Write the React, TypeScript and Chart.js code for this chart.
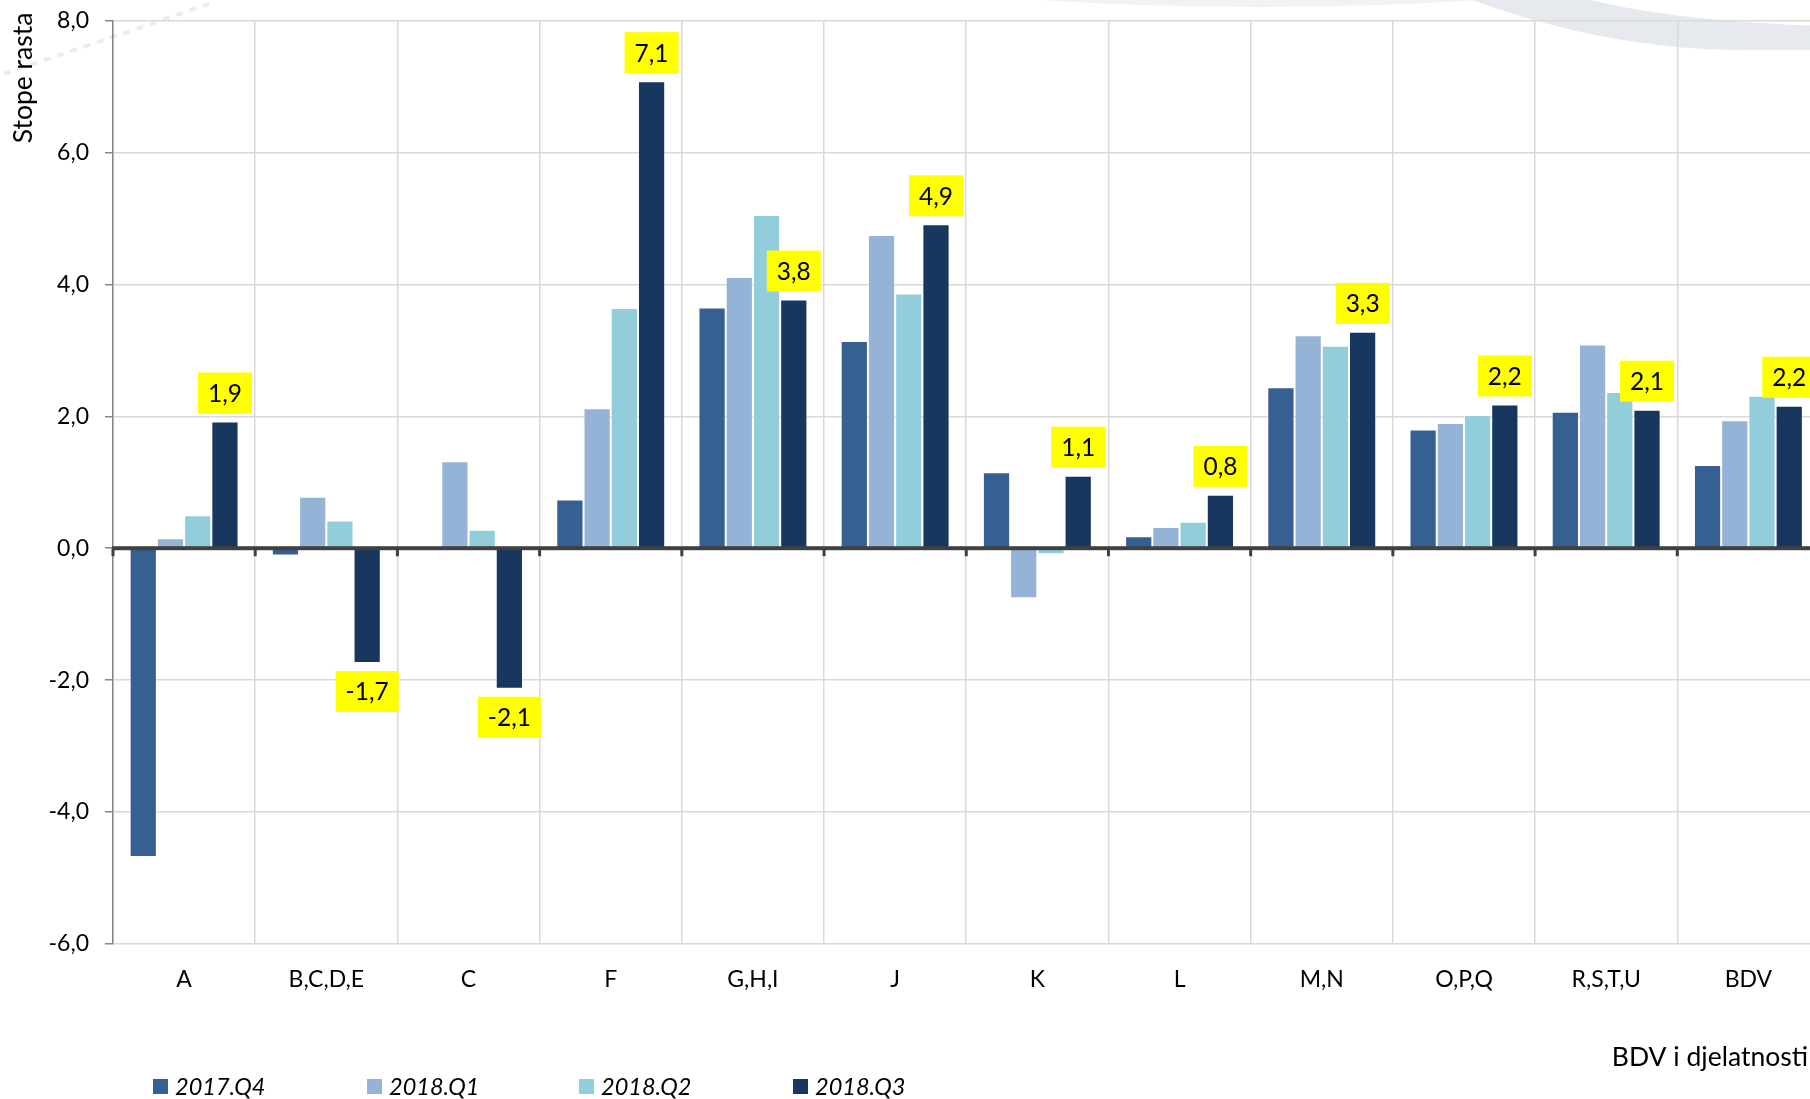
import React, { useEffect, useRef } from "react";
import { Chart, registerables } from "chart.js";

Chart.register(...registerables);

// ---------- data ----------
const categories = ["A", "B,C,D,E", "C", "F", "G,H,I", "J", "K", "L", "M,N", "O,P,Q", "R,S,T,U", "BDV"];
const seriesNames = ["2017.Q4", "2018.Q1", "2018.Q2", "2018.Q3"];
const q4_2017: (number | null)[] = [-4.68, -0.11, null, 0.74, 3.65, 3.14, 1.15, 0.18, 2.44, 1.80, 2.07, 1.26];
const q1_2018: (number | null)[] = [0.15, 0.78, 1.32, 2.12, 4.11, 4.75, -0.76, 0.32, 3.23, 1.90, 3.09, 1.94];
const q2_2018: (number | null)[] = [0.50, 0.42, 0.28, 3.64, 5.05, 3.86, -0.09, 0.40, 3.07, 2.02, 2.37, 2.31];
const q3_2018: (number | null)[] = [1.92, -1.74, -2.13, 7.08, 3.77, 4.91, 1.10, 0.81, 3.28, 2.18, 2.10, 2.16];
const yTickValues = [-6, -4, -2, 0, 2, 4, 6, 8];
const seriesColors = ["#376092", "#95b3d7", "#92cddc", "#17375e"];
const yTitle = "Stope rasta";
const xTitle = "BDV i djelatnosti";

// ---------- layout ----------
const VIEW_W = 1810;
const H = 1099;
const CANVAS_W = 1832;
const PLOT_LEFT = 113;
const PLOT_TOP = 20.5;
const PLOT_RIGHT = 1819.5;
const PLOT_BOTTOM = 944;
const FONT = "Lato, 'Open Sans', sans-serif";

const fmt = (v: number) => v.toFixed(1).replace(".", ",");

const decorPlugin = {
  id: "decor",
  beforeDraw(chart: any) {
    const ctx = chart.ctx;
    ctx.save();
    ctx.fillStyle = "#ffffff";
    ctx.fillRect(0, 0, chart.width, chart.height);
    // faint background swoosh (watermark)
    ctx.fillStyle = "rgba(236,239,242,0.8)";
    ctx.beginPath();
    ctx.moveTo(1040, 0);
    ctx.quadraticCurveTo(1260, 14, 1480, 0);
    ctx.closePath();
    ctx.fill();
    ctx.fillStyle = "rgba(226,230,235,0.85)";
    ctx.beginPath();
    ctx.moveTo(1472, 0);
    ctx.bezierCurveTo(1560, 32, 1650, 50, 1745, 50);
    ctx.lineTo(CANVAS_W, 50);
    ctx.lineTo(CANVAS_W, 26);
    ctx.bezierCurveTo(1730, 24, 1650, 14, 1590, 0);
    ctx.closePath();
    ctx.fill();
    // faint dashes top-left
    ctx.strokeStyle = "rgba(205,214,228,0.45)";
    ctx.lineWidth = 4;
    ctx.setLineDash([7, 7]);
    ctx.beginPath();
    ctx.moveTo(4, 74);
    ctx.lineTo(215, 2);
    ctx.stroke();
    ctx.restore();
  },
};

const overlayPlugin = {
  id: "overlay",
  afterDatasetsDraw(chart: any) {
    const ctx = chart.ctx;
    const area = chart.chartArea;
    const yScale = chart.scales.y;
    const y0 = yScale.getPixelForValue(0);
    const n = categories.length;
    const cw = (area.right - area.left) / n;
    ctx.save();
    // zero axis line with tick marks
    ctx.fillStyle = "#404040";
    ctx.fillRect(area.left - 1, y0 - 2, area.right - area.left + 2, 4);
    for (let i = 0; i <= n; i++) {
      const x = area.left + i * cw;
      ctx.fillRect(x - 1.5, y0, 3, 8);
    }
    // data labels for the last series
    const meta = chart.getDatasetMeta(3);
    ctx.font = `24.5px ${FONT}`;
    ctx.textAlign = "center";
    ctx.textBaseline = "middle";
    meta.data.forEach((bar: any, i: number) => {
      const v = q3_2018[i];
      if (v == null) return;
      const txt = fmt(v);
      const tw = ctx.measureText(txt).width;
      const bw = tw + 20;
      const bh = 41;
      const top = v >= 0 ? bar.y - 8 - bh : bar.y + 8;
      ctx.fillStyle = "#ffff00";
      ctx.fillRect(bar.x - bw / 2, top, bw, bh);
      ctx.fillStyle = "#000000";
      ctx.fillText(txt, bar.x, top + bh / 2 + 1);
    });
    ctx.restore();
  },
  afterDraw(chart: any) {
    const ctx = chart.ctx;
    ctx.save();
    // y axis title
    ctx.fillStyle = "#000";
    ctx.font = `26.5px ${FONT}`;
    ctx.translate(23, 78);
    ctx.rotate(-Math.PI / 2);
    ctx.textAlign = "center";
    ctx.textBaseline = "middle";
    ctx.fillText(yTitle, 0, 0);
    ctx.restore();

    ctx.save();
    ctx.fillStyle = "#000";
    ctx.font = `26.5px ${FONT}`;
    ctx.textAlign = "right";
    ctx.textBaseline = "middle";
    ctx.fillText(xTitle, 1808, 1057);
    ctx.restore();

    // legend
    ctx.save();
    const legendX = [153, 367, 579, 793];
    ctx.font = `italic 23.5px ${FONT}`;
    ctx.textAlign = "left";
    ctx.textBaseline = "middle";
    seriesNames.forEach((name, i) => {
      ctx.fillStyle = seriesColors[i];
      ctx.fillRect(legendX[i], 1079, 15, 15);
      ctx.fillStyle = "#000";
      ctx.fillText(name, legendX[i] + 22, 1087);
    });
    ctx.restore();
  },
};

export default function App() {
  const ref = useRef<HTMLCanvasElement | null>(null);

  useEffect(() => {
    if (!ref.current) return;
    const seriesData = [q4_2017, q1_2018, q2_2018, q3_2018];
    const chart = new Chart(ref.current, {
      type: "bar",
      data: {
        labels: categories,
        datasets: seriesNames.map((name, i) => ({
          label: name,
          data: seriesData[i],
          backgroundColor: seriesColors[i],
          borderColor: "rgba(255,255,255,0.35)",
          borderWidth: 1,
          barPercentage: 1,
          categoryPercentage: 0.766,
        })),
      },
      options: {
        responsive: false,
        animation: false,
        devicePixelRatio: 1,
        layout: { padding: { left: 0, top: PLOT_TOP, right: CANVAS_W - PLOT_RIGHT, bottom: 0 } },
        plugins: {
          legend: { display: false },
          tooltip: { enabled: false },
          title: { display: false },
        },
        scales: {
          x: {
            offset: true,
            grid: { display: true, offset: true, color: "#d9d9d9", lineWidth: 1.5, drawTicks: false },
            border: { display: false },
            ticks: {
              color: "#000",
              font: { family: FONT, size: 23 },
              padding: 22,
              maxRotation: 0,
              minRotation: 0,
              autoSkip: false,
            },
            afterFit: (s: any) => {
              s.height = H - PLOT_BOTTOM;
            },
          },
          y: {
            min: -6,
            max: 8,
            afterBuildTicks: (s: any) => {
              s.ticks = yTickValues.map((v) => ({ value: v }));
            },
            ticks: {
              color: "#000",
              font: { family: FONT, size: 23 },
              padding: 16,
              callback: (v: any) => fmt(Number(v)),
            },
            grid: { color: "#d9d9d9", lineWidth: 1.5, tickLength: 8, tickColor: "#868686", drawTicks: true },
            border: { display: true, color: "#868686", width: 1.5 },
            afterFit: (s: any) => {
              s.width = PLOT_LEFT;
              s.paddingTop = 0;
              s.paddingBottom = 0;
            },
          },
        },
      },
      plugins: [decorPlugin, overlayPlugin],
    } as any);
    return () => chart.destroy();
  }, []);

  return (
    <div
      style={{
        position: "fixed",
        left: 0,
        top: 0,
        width: VIEW_W,
        height: H,
        overflow: "hidden",
        background: "#fff",
      }}
    >
      <canvas ref={ref} width={CANVAS_W} height={H} style={{ display: "block", width: CANVAS_W, height: H }} />
    </div>
  );
}
